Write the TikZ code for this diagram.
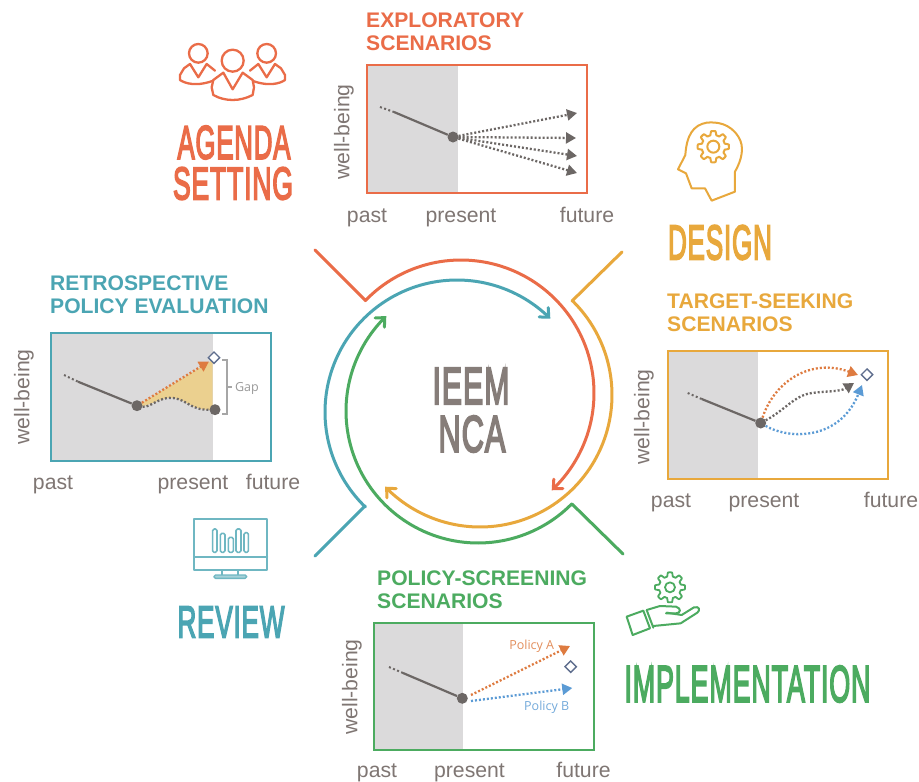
\documentclass[tikz,border=0pt]{standalone}
\usepackage{fontspec}
\usepackage{graphicx}
\usetikzlibrary{arrows.meta,shapes.geometric}
\setmainfont{Liberation Sans}
\newfontfamily\smallfont{Open Sans}
\newfontfamily\dinfont[FakeBold=4.2,LetterSpace=3]{Liberation Sans}
\definecolor{cred}{HTML}{EA6C48}
\definecolor{cyel}{HTML}{E8A83C}
\definecolor{cteal}{HTML}{4BA5B3}
\definecolor{cgrn}{HTML}{4CAB60}
\definecolor{ctxt}{HTML}{7F7673}
\definecolor{cmid}{HTML}{867D79}
\definecolor{cdot}{HTML}{6C6765}
\definecolor{cgr}{HTML}{DBDADB}
\definecolor{corg}{HTML}{DE7B40}
\definecolor{cblu}{HTML}{5B9BD5}
\definecolor{cfill}{HTML}{EBD08F}
\definecolor{cdia}{HTML}{5F6E8E}
\newcommand{\biglab}[3]{\resizebox{#1pt}{#2pt}{\dinfont #3}}
\newcommand{\gearshape}[6]{% cx cy rmid amp hole style
  \draw[#6] plot[domain=0:360,samples=193,variable=\t]
    ({#1+(#3+#4*max(-1,min(1,2.2*cos(8*\t))))*cos(\t)},{#2+(#3+#4*max(-1,min(1,2.2*cos(8*\t))))*sin(\t)}) -- cycle;
  \draw[#6] (#1,#2) circle[radius=#5];
}
\tikzset{
  x=1pt,y=-1pt,
  ring/.style={line width=3pt,line cap=round,line join=round},
  ringtip/.style={-{Straight Barb[length=7pt,width=13pt,line cap=round]}},
  frame/.style={draw=#1,line width=2pt},
  past/.style={fill=cgr,draw=none},
  hist/.style={draw=cdot,line width=2.2pt},
  histdot/.style={draw=cdot,line width=2pt,dash pattern=on 2pt off 2.4pt},
  dotn/.style={circle,fill=cdot,inner sep=0pt,minimum size=11pt},
  diam/.style={diamond,draw=cdia,fill=white,line width=1.4pt,inner sep=0pt,minimum size=12pt},
  proj/.style={draw=#1,line width=2.3pt,dash pattern=on 2pt off 2pt,
     -{Triangle[length=10pt,width=11pt,fill=#1]}},
  axislab/.style={text=ctxt,font=\fontsize{21.2}{24}\selectfont,inner sep=0pt,anchor=base},
  ylab/.style={text=ctxt,font=\fontsize{21.2}{24}\selectfont,inner sep=0pt,rotate=90},
  ttl/.style={text=#1,font=\fontsize{21.1}{23}\bfseries\selectfont,align=left,anchor=west,inner sep=0pt},
  big/.style={text=#1,inner sep=0pt},
  icon/.style={draw=#1,line width=2pt,line join=round,line cap=round},
  plab/.style={text=#1,font=\smallfont\fontsize{12.5}{14}\selectfont,inner sep=0pt},
}
\begin{document}
\begin{tikzpicture}
\useasboundingbox[fill=white] (0,0) rectangle (919,782);

% ---------- central rings
\coordinate (rt) at (315,250); \coordinate (yt) at (622,252);
\coordinate (tt) at (315,556); \coordinate (gt) at (623,554);
\coordinate (rn) at (365,300); \coordinate (yn) at (572,301);
\coordinate (tn) at (365,506); \coordinate (gn) at (572,504);
\draw[ring,cteal,ringtip] (tt) -- (tn) -- plot[domain=134:315,samples=90,variable=\t]({457+132*cos(\t)},{412+132*sin(\t)});
\draw[ring,cgrn,ringtip] (gt) -- (gn) -- plot[domain=45:226,samples=90,variable=\t]({478+132*cos(\t)},{411+132*sin(\t)});
\draw[ring,cyel,ringtip] (yt) -- (yn) -- plot[domain=-45.6:136,samples=90,variable=\t]({480+132*cos(\t)},{395+132*sin(\t)});
\draw[ring,cred,ringtip] (rt) -- (rn) -- plot[domain=224:407,samples=90,variable=\t]({461+133*cos(\t)},{393+133*sin(\t)});
\node[big=cmid] (ieem) at (471,386) {\biglab{77}{36}{IEEM}};
\node[big=cmid] (nca) at (472,434) {\biglab{67}{36}{NCA}};

% ---------- big labels
\node[big=cred] (agenda) at (234,142.5) {\biglab{113}{33}{AGENDA}};
\node[big=cred] (setting) at (233,183.5) {\biglab{120}{32}{SETTING}};
\node[big=cyel] (design) at (720,242.5) {\biglab{104}{34}{DESIGN}};
\node[big=cteal] (review) at (231,622) {\biglab{107}{31}{REVIEW}};
\node[big=cgrn] (impl) at (747.5,684) {\biglab{246}{36}{IMPLEMENTATION}};

% ---------- exploratory
\node[ttl=cred] (t1) at (366,32) {EXPLORATORY\\SCENARIOS};
\fill[past] (367,65) rectangle (458,192.7);
\draw[frame=cred] (367,65) rectangle (587,192.7);
\node[dotn] (d1) at (453,137) {};
\coordinate (h1a) at (380,107); \coordinate (h1b) at (394,112);
\draw[histdot] (h1a) -- (h1b); \draw[hist] (h1b) -- (d1);
\coordinate (e1) at (577,113); \coordinate (e2) at (576,138);
\coordinate (e3) at (577,156); \coordinate (e4) at (577,173);
\foreach \e in {e1,e2,e3,e4} \draw[proj=cdot] (d1) -- (\e);
\node[ylab] (w1) at (344,132) {well-being};
\node[axislab] (p1) at (367,222) {past};
\node[axislab] (q1) at (461,222) {present};
\node[axislab] (f1) at (587,222) {future};

% ---------- target-seeking
\node[ttl=cyel] (t2) at (667,313) {TARGET-SEEKING\\SCENARIOS};
\fill[past] (668,351) rectangle (758,479);
\draw[frame=cyel] (668,351) rectangle (888,479);
\node[dotn] (d2) at (760.7,423) {};
\node[diam] (g2) at (867,374.7) {};
\coordinate (h2a) at (687.7,393); \coordinate (h2b) at (701.7,399);
\draw[histdot] (h2a) -- (h2b); \draw[hist] (h2b) -- (d2);
\coordinate (o2) at (858,375); \coordinate (k2) at (854,383); \coordinate (b2) at (862,385);
\draw[proj=corg] (d2) .. controls (775,380) and (812,358) .. (o2);
\draw[proj=cdot] (d2) .. controls (785,410) and (795,395) .. (812,393) .. controls (825,391) and (840,392) .. (k2);
\draw[proj=cblu] (d2) .. controls (790,440) and (840,440) .. (b2);
\node[ylab] (w2) at (644,417) {well-being};
\node[axislab] (p2) at (671,507) {past};
\node[axislab] (q2) at (764,507) {present};
\node[axislab] (f2) at (891,507) {future};

% ---------- retrospective
\node[ttl=cteal] (t3) at (50,295) {RETROSPECTIVE\\POLICY EVALUATION};
\fill[past] (50.7,332.7) rectangle (212.7,460.7);
\draw[frame=cteal] (50.7,332.7) rectangle (270.7,460.7);
\fill[cfill] (137,406) .. controls (150,408) and (160,396) .. (173,398) .. controls (188,400) and (190,410) .. (212.7,410) -- (212.7,360) -- cycle;
\node[dotn] (d3) at (137,405.7) {};
\node[dotn] (d3b) at (215,409.7) {};
\node[diam] (g3) at (214,357.7) {};
\coordinate (h3a) at (64,375); \coordinate (h3b) at (78,381.7);
\draw[histdot] (h3a) -- (h3b); \draw[hist] (h3b) -- (d3);
\coordinate (o3) at (209,361.5);
\draw[proj=corg] (d3) -- (o3);
\draw[draw=cdot,line width=2.3pt,dash pattern=on 2pt off 2pt] (d3) .. controls (150,408) and (160,396) .. (173,398) .. controls (188,400) and (190,410) .. (d3b);
\coordinate (b1) at (222,360); \coordinate (b2a) at (227,360); \coordinate (b3) at (227,414); \coordinate (b4) at (222,414);
\coordinate (b5) at (227,387); \coordinate (b6) at (232,387);
\draw[draw=gray!70,line width=1.2pt] (b1) -- (b2a) -- (b3) -- (b4) (b5) -- (b6);
\node[plab=gray!80] (gap) at (247,388) {Gap};
\node[ylab] (w3) at (24,397) {well-being};
\node[axislab] (p3) at (53,489.5) {past};
\node[axislab] (q3) at (193,489.5) {present};
\node[axislab] (f3) at (273,489.5) {future};

% ---------- policy-screening
\node[ttl=cgrn] (t4) at (377,589.5) {POLICY-SCREENING\\SCENARIOS};
\fill[past] (374,622.7) rectangle (463.3,750);
\draw[frame=cgrn] (374,622.7) rectangle (594.3,750);
\node[dotn] (d4) at (462.3,698.3) {};
\node[diam] (g4) at (570.7,666.7) {};
\coordinate (h4a) at (389,667); \coordinate (h4b) at (403,673);
\draw[histdot] (h4a) -- (h4b); \draw[hist] (h4b) -- (d4);
\coordinate (s4o) at (471,695); \coordinate (s4b) at (471,701);
\coordinate (o4) at (570,646); \coordinate (b4e) at (572.3,688);
\draw[proj=corg] (s4o) -- (o4);
\draw[proj=cblu] (s4b) -- (b4e);
\node[plab=corg!85] (pa) at (531.7,646.5) {Policy A};
\node[plab=cblu!85] (pb) at (546.7,707) {Policy B};
\node[ylab] (w4) at (352,687) {well-being};
\node[axislab] (p4) at (377,777) {past};
\node[axislab] (q4) at (469.5,777) {present};
\node[axislab] (f4) at (583.5,777) {future};

% ---------- people icon
\begin{scope}[shift={(160,0)},x=.3333pt,y=-.3333pt]
  \draw[icon=cred,line width=2.3pt] (115,160) circle[radius=28];
  \draw[icon=cred,line width=2.3pt] (320,160) circle[radius=28];
  \draw[icon=cred,line width=2.3pt] (165,240) .. controls (110,262) and (75,250) .. (60,240) -- (60,225) -- (72,205) -- (90,192) -- (115,232) -- (140,192) -- (165,212);
  \draw[icon=cred,line width=2.3pt] (271,240) .. controls (326,262) and (361,250) .. (375,240) -- (375,225) -- (363,205) -- (345,192) -- (320,232) -- (295,192) -- (270,212);
  \draw[icon=cred,line width=2.3pt,fill=white] (218,182) circle[radius=33];
  \draw[icon=cred,line width=2.3pt,fill=white] (155,262) -- (160,240) -- (190,218) -- (218,268) -- (248,218) -- (278,240) -- (282,262) -- (278,285) .. controls (240,305) and (195,305) .. (160,285) -- cycle;
\end{scope}

% ---------- head icon
\begin{scope}[shift={(660,110)},x=.3333pt,y=-.3333pt]
  \draw[icon=cyel] (225,245) -- (225,185) .. controls (245,150) and (255,110) .. (235,80) .. controls (210,40) and (170,35) .. (140,38) .. controls (100,45) and (80,75) .. (76,135) -- (54,178) -- (78,190) -- (95,235) -- (135,235) -- (155,272) -- cycle;
  \gearshape{160}{110}{41}{6}{18}{icon=cyel}
\end{scope}

% ---------- monitor icon
\begin{scope}[shift={(170,510)},x=.3333pt,y=-.3333pt]
  \draw[icon=cteal!80,line width=1.8pt] (72,28) rectangle (292,180);
  \draw[icon=cteal!80,line width=1.8pt] (72,140) -- (292,140);
  \draw[icon=cteal!80,line width=1.8pt] (157,180) -- (157,195) (203,180) -- (203,195);
  \draw[icon=cteal!80,line width=1.4pt,fill=cteal!50,rounded corners=1.5pt] (132,195) rectangle (230,205);
  \draw[icon=cteal!80,line width=1.6pt,rounded corners=1.5pt] (128,57) rectangle (141,127);
  \draw[icon=cteal!80,line width=1.6pt,rounded corners=1.5pt] (151,70) rectangle (165,127);
  \draw[icon=cteal!80,line width=1.6pt,rounded corners=1.5pt] (175,82) rectangle (190,127);
  \draw[icon=cteal!80,line width=1.6pt,rounded corners=1.5pt] (198,57) rectangle (213,127);
  \draw[icon=cteal!80,line width=1.6pt,rounded corners=1.5pt] (222,68) rectangle (235,127);
\end{scope}

% ---------- hand icon
\begin{scope}[shift={(610,560)},x=.3333pt,y=-.3333pt]
  \gearshape{180}{82}{39}{6}{15}{icon=cgrn,line width=1.8pt}
  \draw[icon=cgrn,line width=2pt] (50,170) -- (100,152) -- (120,205) -- (68,225) -- cycle;
  \draw[icon=cgrn,line width=2pt] (110,150) -- (130,203);
  \draw[icon=cgrn,line width=2pt] (110,150) -- (150,138) -- (198,140) .. controls (215,145) and (212,160) .. (198,160) -- (168,160);
  \draw[icon=cgrn,line width=2pt] (170,158) -- (215,165) -- (252,142) .. controls (268,138) and (272,150) .. (262,158) -- (212,190) -- (130,198);
\end{scope}
\end{tikzpicture}
\end{document}
